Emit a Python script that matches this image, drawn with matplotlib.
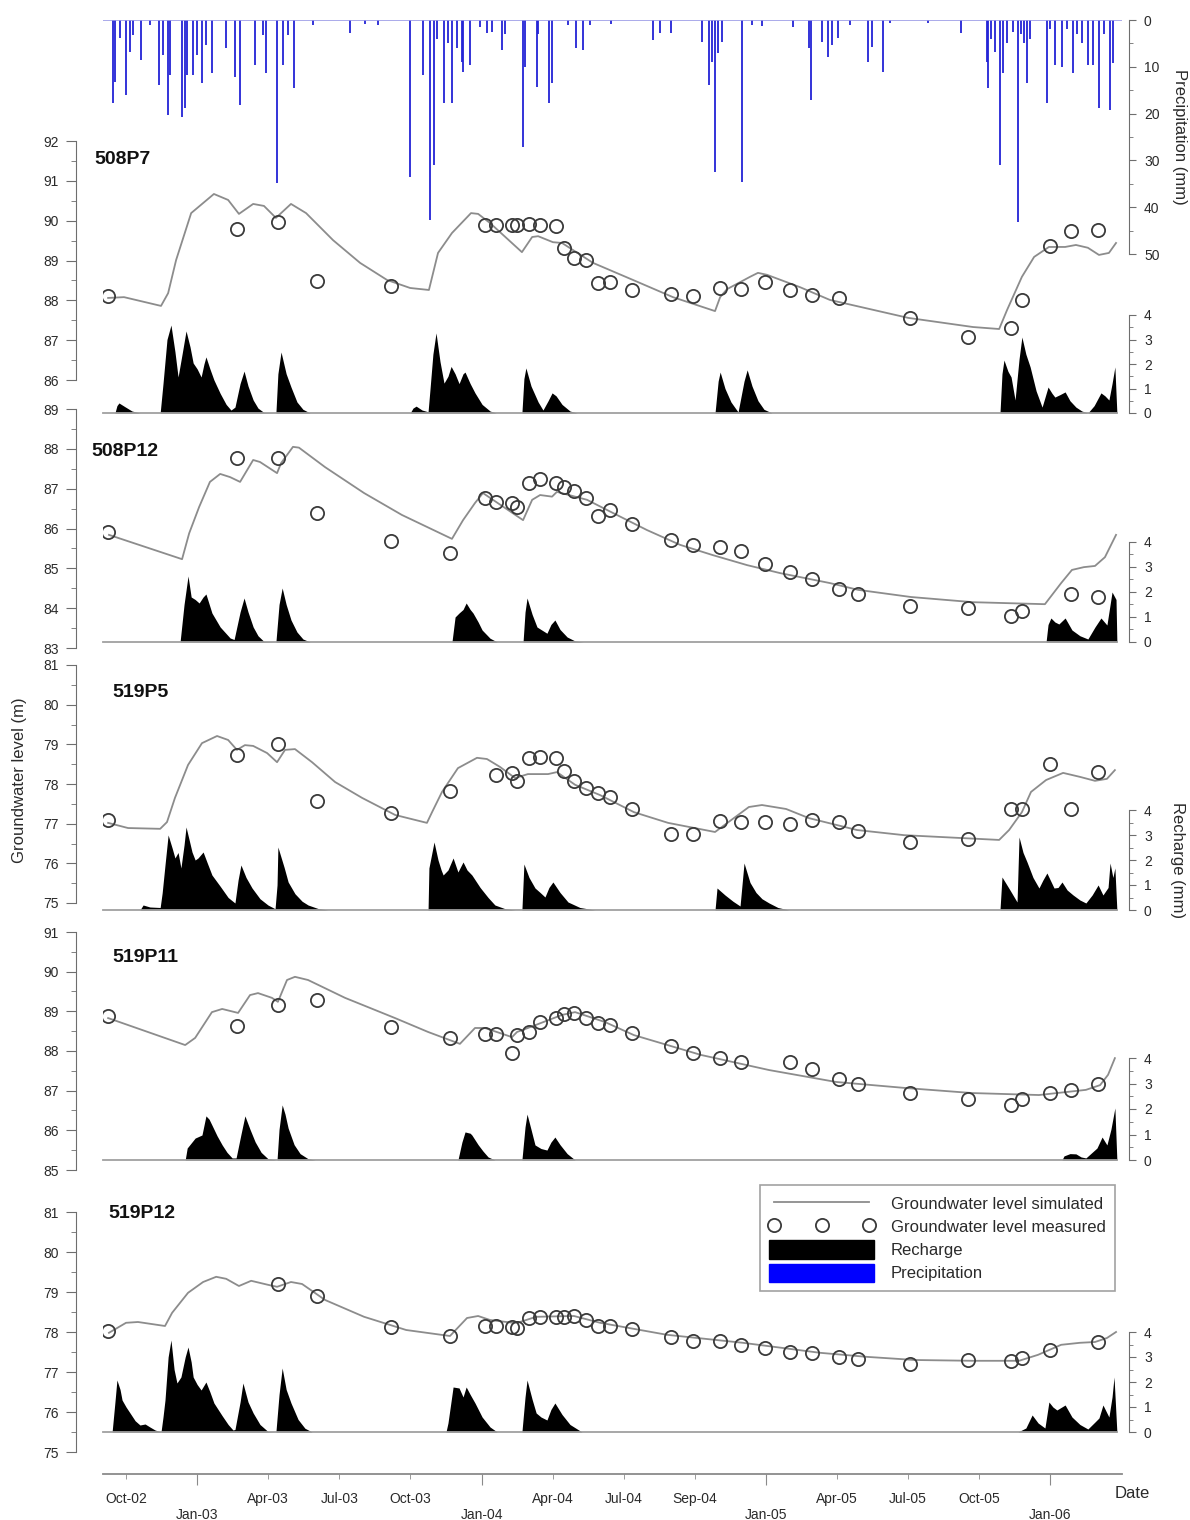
import numpy as np
import matplotlib.pyplot as plt
from matplotlib.lines import Line2D
from matplotlib.patches import Patch
from matplotlib.ticker import MultipleLocator

plt.rcParams['font.family'] = ['Liberation Sans', 'DejaVu Sans']

# all times are decimal years
quarter_ticks = [2002.75, 2003.0, 2003.25, 2003.5, 2003.75, 2004.0, 2004.25,
                 2004.5, 2004.75, 2005.0, 2005.25, 2005.5, 2005.75, 2006.0]
quarter_labels = ['Oct-02', 'Jan-03', 'Apr-03', 'Jul-03', 'Oct-03', 'Jan-04', 'Apr-04',
                  'Jul-04', 'Sep-04', 'Jan-05', 'Apr-05', 'Jul-05', 'Oct-05', 'Jan-06']

# daily precipitation (mm)
precip = [
    (2002.704, 17.8), (2002.711, 13.3), (2002.729, 3.9), (2002.750, 16.0), (2002.764, 6.8),
    (2002.775, 3.2), (2002.803, 8.5), (2002.834, 1.1), (2002.866, 13.9), (2002.880, 7.5),
    (2002.898, 20.3), (2002.905, 11.8), (2002.947, 20.7), (2002.958, 18.8), (2002.965, 11.8),
    (2002.986, 11.8), (2003.000, 7.5), (2003.017, 13.5), (2003.031, 5.3), (2003.052, 11.3),
    (2003.102, 6.0), (2003.133, 12.2), (2003.151, 18.2), (2003.204, 9.6), (2003.232, 3.2),
    (2003.242, 11.3), (2003.281, 34.8), (2003.302, 9.6), (2003.320, 3.2), (2003.341, 14.5),
    (2003.408, 1.1), (2003.538, 2.8), (2003.591, 0.8), (2003.636, 1.0), (2003.749, 33.5),
    (2003.794, 11.8), (2003.819, 42.7), (2003.833, 31.0), (2003.844, 4.0), (2003.868, 17.8),
    (2003.882, 5.0), (2003.896, 17.8), (2003.914, 6.0), (2003.931, 9.0), (2003.935, 11.1),
    (2003.960, 9.6), (2003.995, 1.5), (2004.019, 2.8), (2004.037, 2.5), (2004.072, 6.4),
    (2004.083, 3.0), (2004.146, 27.1), (2004.153, 10.0), (2004.195, 14.3), (2004.199, 3.0),
    (2004.237, 17.8), (2004.248, 13.5), (2004.304, 1.0), (2004.332, 6.0), (2004.357, 6.4),
    (2004.381, 1.0), (2004.455, 0.8), (2004.603, 4.3), (2004.628, 2.8), (2004.667, 2.8),
    (2004.775, 4.7), (2004.800, 13.9), (2004.810, 9.0), (2004.821, 32.5), (2004.832, 7.0),
    (2004.846, 4.7), (2004.916, 34.6), (2004.951, 1.0), (2004.986, 1.2), (2005.095, 1.5),
    (2005.151, 6.0), (2005.158, 17.1), (2005.197, 4.7), (2005.218, 7.9), (2005.232, 5.3),
    (2005.254, 3.9), (2005.296, 1.0), (2005.359, 9.0), (2005.373, 5.8), (2005.412, 11.1),
    (2005.436, 0.6), (2005.570, 0.6), (2005.686, 2.8), (2005.777, 9.0), (2005.781, 14.5),
    (2005.791, 4.0), (2005.805, 6.8), (2005.823, 31.0), (2005.834, 11.3), (2005.848, 5.0),
    (2005.869, 2.5), (2005.886, 43.2), (2005.897, 3.0), (2005.907, 5.0), (2005.918, 13.5),
    (2005.929, 4.0), (2005.988, 17.8), (2005.999, 2.0), (2006.016, 9.6), (2006.041, 10.0),
    (2006.059, 2.0), (2006.080, 11.3), (2006.094, 3.0), (2006.111, 4.9), (2006.132, 9.6),
    (2006.150, 9.6), (2006.171, 18.8), (2006.189, 3.0), (2006.210, 19.2), (2006.220, 9.2),
]

# measurement dates shared by all wells
meas_t = [2002.687, 2003.140, 2003.284, 2003.422, 2003.682, 2003.889, 2004.012, 2004.051,
          2004.107, 2004.125, 2004.167, 2004.206, 2004.262, 2004.290, 2004.325, 2004.367,
          2004.410, 2004.452, 2004.529, 2004.666, 2004.744, 2004.839, 2004.912, 2004.997,
          2005.085, 2005.162, 2005.257, 2005.324, 2005.507, 2005.711, 2005.862, 2005.900,
          2005.999, 2006.073, 2006.168]
nan = np.nan
meas_508P7 = [88.11, 89.79, 89.97, 88.49, 88.36, nan, 89.89, 89.89, 89.89, 89.89, 89.92, 89.89,
              89.87, 89.31, 89.06, 89.01, 88.43, 88.46, 88.26, 88.16, 88.11, 88.31, 88.28, 88.46,
              88.26, 88.13, 88.06, nan, 87.56, 87.08, 87.31, 88.01, 89.36, 89.74, 89.77]
meas_508P12 = [85.91, 87.77, 87.77, 86.39, 85.69, 85.38, 86.77, 86.67, 86.64, 86.54, 87.14, 87.24,
               87.14, 87.04, 86.94, 86.77, 86.31, 86.46, 86.11, 85.71, 85.59, 85.54, 85.44, 85.11,
               84.91, 84.73, 84.48, 84.35, 84.05, 84.00, 83.80, 83.93, nan, 84.35, 84.28]
meas_519P5 = [77.09, 78.73, 79.01, 77.57, 77.27, 77.82, nan, 78.23, 78.28, 78.08, 78.66, 78.68,
              78.66, 78.33, 78.08, 77.90, 77.77, 77.67, 77.37, 76.74, 76.74, 77.07, 77.04, 77.04,
              76.99, 77.09, 77.04, 76.82, 76.54, 76.61, 77.37, 77.37, 78.50, 77.37, 78.30]
meas_519P11 = [88.88, 88.63, 89.16, 89.29, 88.61, 88.33, 88.43, 88.43, 87.95, 88.40, 88.48, 88.73,
               88.83, 88.93, 88.96, 88.83, 88.71, 88.66, 88.45, 88.13, 87.95, 87.82, 87.72, nan,
               87.72, 87.55, 87.29, 87.17, 86.94, 86.79, 86.64, 86.79, 86.94, 87.02, 87.17]
meas_519P12 = [78.02, nan, 79.20, 78.90, 78.13, 77.90, 78.15, 78.15, 78.13, 78.10, 78.35, 78.38,
               78.38, 78.38, 78.40, 78.30, 78.15, 78.15, 78.08, 77.88, 77.78, 77.78, 77.68, 77.60,
               77.50, 77.48, 77.38, 77.33, 77.20, 77.30, 77.28, 77.35, 77.55, nan, 77.75]

# simulated groundwater level (m)
sim_508P7 = [
    (2002.687, 88.06), (2002.743, 88.08), (2002.873, 87.86), (2002.898, 88.18), (2002.926, 89.01),
    (2002.979, 90.19), (2003.059, 90.67), (2003.109, 90.52), (2003.147, 90.17), (2003.197, 90.42),
    (2003.235, 90.37), (2003.277, 90.07), (2003.330, 90.42), (2003.383, 90.19), (2003.478, 89.51),
    (2003.573, 88.94), (2003.668, 88.51), (2003.749, 88.31), (2003.815, 88.26), (2003.847, 89.19),
    (2003.896, 89.69), (2003.963, 90.19), (2003.988, 90.17), (2004.030, 89.94), (2004.142, 89.21),
    (2004.178, 89.59), (2004.199, 89.61), (2004.251, 89.46), (2004.283, 89.44), (2004.392, 88.94),
    (2004.533, 88.51), (2004.673, 88.08), (2004.821, 87.73), (2004.839, 88.08), (2004.863, 88.28),
    (2004.944, 88.59), (2004.972, 88.69), (2005.004, 88.64), (2005.120, 88.33), (2005.225, 88.01),
    (2005.500, 87.56), (2005.728, 87.33), (2005.820, 87.28), (2005.848, 87.76), (2005.900, 88.59),
    (2005.943, 89.09), (2005.995, 89.34), (2006.052, 89.34), (2006.090, 89.39), (2006.132, 89.32),
    (2006.171, 89.14), (2006.206, 89.19), (2006.231, 89.44),
]
sim_508P12 = [
    (2002.690, 85.84), (2002.947, 85.23), (2002.972, 85.88), (2003.007, 86.54), (2003.045, 87.17),
    (2003.081, 87.37), (2003.116, 87.29), (2003.151, 87.17), (2003.197, 87.72), (2003.221, 87.67),
    (2003.281, 87.39), (2003.295, 87.64), (2003.337, 88.05), (2003.358, 88.03), (2003.450, 87.54),
    (2003.587, 86.89), (2003.720, 86.34), (2003.896, 85.74), (2003.935, 86.21), (2003.977, 86.64),
    (2004.005, 86.89), (2004.146, 86.21), (2004.178, 86.72), (2004.206, 86.84), (2004.248, 86.80),
    (2004.265, 86.92), (2004.371, 86.72), (2004.462, 86.39), (2004.582, 85.96), (2004.698, 85.59),
    (2004.814, 85.33), (2004.934, 85.08), (2005.050, 84.88), (2005.225, 84.63), (2005.324, 84.46),
    (2005.510, 84.28), (2005.728, 84.15), (2005.981, 84.10), (2006.038, 84.63), (2006.076, 84.96),
    (2006.118, 85.03), (2006.157, 85.06), (2006.192, 85.28), (2006.231, 85.84),
]
sim_519P5 = [
    (2002.687, 77.02), (2002.757, 76.89), (2002.870, 76.87), (2002.894, 77.04), (2002.922, 77.65),
    (2002.968, 78.48), (2003.017, 79.03), (2003.070, 79.21), (2003.109, 79.11), (2003.140, 78.86),
    (2003.168, 78.98), (2003.197, 78.96), (2003.246, 78.78), (2003.281, 78.55), (2003.309, 78.86),
    (2003.344, 78.88), (2003.404, 78.55), (2003.485, 78.05), (2003.580, 77.65), (2003.696, 77.22),
    (2003.808, 77.02), (2003.826, 77.29), (2003.861, 77.80), (2003.917, 78.40), (2003.984, 78.66),
    (2004.019, 78.63), (2004.065, 78.43), (2004.118, 78.15), (2004.163, 78.25), (2004.234, 78.25),
    (2004.265, 78.30), (2004.329, 77.98), (2004.417, 77.72), (2004.536, 77.29), (2004.656, 77.02),
    (2004.821, 76.79), (2004.940, 77.42), (2004.986, 77.47), (2005.071, 77.37), (2005.151, 77.14),
    (2005.320, 76.84), (2005.486, 76.71), (2005.820, 76.59), (2005.855, 76.84), (2005.900, 77.29),
    (2005.932, 77.80), (2005.985, 78.10), (2006.045, 78.28), (2006.104, 78.18), (2006.157, 78.08),
    (2006.199, 78.13), (2006.227, 78.35),
]
sim_519P11 = [
    (2002.687, 88.83), (2002.958, 88.15), (2002.993, 88.33), (2003.052, 88.98), (2003.088, 89.06),
    (2003.144, 88.96), (2003.186, 89.41), (2003.214, 89.46), (2003.263, 89.34), (2003.284, 89.24),
    (2003.316, 89.79), (2003.344, 89.87), (2003.390, 89.79), (2003.520, 89.34), (2003.696, 88.83),
    (2003.812, 88.48), (2003.924, 88.18), (2003.977, 88.58), (2004.012, 88.58), (2004.107, 88.35),
    (2004.125, 88.48), (2004.163, 88.58), (2004.283, 88.91), (2004.329, 88.98), (2004.434, 88.73),
    (2004.536, 88.40), (2004.772, 87.90), (2005.011, 87.52), (2005.246, 87.22), (2005.486, 87.07),
    (2005.725, 86.94), (2005.960, 86.89), (2006.125, 87.02), (2006.175, 87.14), (2006.203, 87.40),
    (2006.227, 87.82),
]
sim_519P12 = [
    (2002.690, 77.98), (2002.750, 78.23), (2002.792, 78.25), (2002.887, 78.15), (2002.912, 78.48),
    (2002.968, 78.98), (2003.021, 79.25), (2003.067, 79.38), (2003.102, 79.33), (2003.147, 79.15),
    (2003.190, 79.28), (2003.249, 79.18), (2003.281, 79.13), (2003.330, 79.25), (2003.369, 79.20),
    (2003.450, 78.80), (2003.587, 78.38), (2003.735, 78.05), (2003.889, 77.90), (2003.949, 78.35),
    (2003.988, 78.40), (2004.030, 78.30), (2004.111, 78.23), (2004.135, 78.25), (2004.192, 78.38),
    (2004.325, 78.40), (2004.417, 78.23), (2004.652, 77.93), (2004.919, 77.73), (2005.190, 77.48),
    (2005.352, 77.38), (2005.524, 77.30), (2005.728, 77.28), (2005.890, 77.28), (2005.957, 77.43),
    (2006.038, 77.68), (2006.104, 77.73), (2006.157, 77.75), (2006.199, 77.85), (2006.231, 78.00),
]

# recharge (mm)
rech_508P7 = [
    (2002.711, 0), (2002.718, 0.3), (2002.725, 0.41), (2002.747, 0.25), (2002.771, 0.08), (2002.799, 0),
    (2002.870, 0), (2002.880, 1.2), (2002.894, 3.0), (2002.908, 3.59), (2002.922, 2.5), (2002.933, 1.47),
    (2002.947, 2.4), (2002.961, 3.35), (2002.975, 2.7), (2002.986, 2.04), (2003.000, 1.8), (2003.014, 1.47),
    (2003.024, 2.0), (2003.031, 2.29), (2003.045, 1.8), (2003.059, 1.35), (2003.081, 0.8), (2003.102, 0.35),
    (2003.119, 0.12), (2003.133, 0.24), (2003.151, 1.2), (2003.165, 1.71), (2003.179, 1.1), (2003.197, 0.53),
    (2003.214, 0.2), (2003.235, 0.02), (2003.277, 0), (2003.284, 1.6), (2003.295, 2.49), (2003.313, 1.6),
    (2003.330, 1.06), (2003.351, 0.45), (2003.372, 0.15), (2003.397, 0),
    (2003.749, 0), (2003.759, 0.2), (2003.770, 0.28), (2003.791, 0.12), (2003.812, 0.05), (2003.819, 1.0),
    (2003.829, 2.4), (2003.840, 3.27), (2003.854, 2.1), (2003.868, 1.22), (2003.882, 1.5), (2003.893, 1.9),
    (2003.907, 1.6), (2003.921, 1.2), (2003.935, 1.6), (2003.942, 1.67), (2003.960, 1.2), (2003.977, 0.82),
    (2004.002, 0.35), (2004.030, 0.08), (2004.051, 0),
    (2004.142, 0), (2004.149, 1.4), (2004.156, 1.84), (2004.174, 1.1), (2004.199, 0.45), (2004.216, 0.12),
    (2004.234, 0.5), (2004.248, 0.82), (2004.262, 0.7), (2004.283, 0.35), (2004.311, 0.08), (2004.336, 0),
    (2004.821, 0), (2004.832, 1.3), (2004.839, 1.67), (2004.856, 1.0), (2004.877, 0.45), (2004.902, 0.04),
    (2004.923, 1.3), (2004.934, 1.76), (2004.951, 1.1), (2004.972, 0.5), (2004.993, 0.15), (2005.021, 0),
    (2005.823, 0), (2005.830, 1.6), (2005.837, 2.16), (2005.851, 1.7), (2005.862, 1.47), (2005.876, 0.53),
    (2005.890, 2.2), (2005.900, 3.10), (2005.914, 2.4), (2005.929, 1.88), (2005.950, 0.9), (2005.971, 0.24),
    (2005.992, 1.06), (2006.006, 0.8), (2006.016, 0.65), (2006.034, 0.75), (2006.052, 0.86), (2006.069, 0.5),
    (2006.090, 0.24), (2006.111, 0.08), (2006.132, 0), (2006.154, 0.3), (2006.178, 0.82), (2006.192, 0.7),
    (2006.206, 0.53), (2006.217, 1.2), (2006.227, 1.88), (2006.234, 0),
]
rech_508P12 = [
    (2002.940, 0), (2002.954, 1.5), (2002.968, 2.64), (2002.979, 1.8), (2002.993, 1.7), (2003.007, 1.56),
    (2003.021, 1.8), (2003.031, 1.92), (2003.052, 1.16), (2003.081, 0.6), (2003.116, 0.16), (2003.130, 0.1),
    (2003.151, 1.2), (2003.165, 1.76), (2003.179, 1.2), (2003.197, 0.6), (2003.214, 0.25), (2003.235, 0.02),
    (2003.277, 0), (2003.288, 1.5), (2003.299, 2.16), (2003.313, 1.5), (2003.330, 0.88), (2003.351, 0.4),
    (2003.372, 0.12), (2003.397, 0),
    (2003.896, 0), (2003.907, 1.0), (2003.921, 1.16), (2003.935, 1.3), (2003.946, 1.56), (2003.960, 1.3),
    (2003.970, 1.16), (2003.988, 0.8), (2004.002, 0.48), (2004.030, 0.15), (2004.055, 0),
    (2004.146, 0), (2004.153, 1.2), (2004.160, 1.76), (2004.178, 1.1), (2004.195, 0.6), (2004.230, 0.35),
    (2004.244, 0.7), (2004.258, 0.88), (2004.276, 0.5), (2004.301, 0.2), (2004.329, 0.04), (2004.357, 0),
    (2005.985, 0), (2005.992, 0.7), (2006.002, 0.96), (2006.016, 0.8), (2006.030, 0.72), (2006.052, 0.96),
    (2006.076, 0.48), (2006.104, 0.25), (2006.132, 0.12), (2006.157, 0.6), (2006.178, 0.96), (2006.199, 0.68),
    (2006.217, 2.0), (2006.231, 1.7), (2006.234, 0),
]
rech_519P5 = [
    (2002.799, 0), (2002.810, 0.2), (2002.834, 0.12), (2002.870, 0.1), (2002.877, 0.68), (2002.887, 1.8),
    (2002.898, 3.0), (2002.912, 2.48), (2002.922, 2.08), (2002.933, 2.3), (2002.943, 1.68), (2002.954, 2.6),
    (2002.961, 3.32), (2002.972, 2.8), (2002.982, 2.32), (2002.993, 2.0), (2003.003, 2.08), (2003.021, 2.32),
    (2003.035, 1.9), (2003.052, 1.4), (2003.081, 0.95), (2003.109, 0.5), (2003.133, 0.28), (2003.144, 1.2),
    (2003.154, 1.8), (2003.172, 1.3), (2003.193, 0.88), (2003.221, 0.45), (2003.249, 0.2), (2003.274, 0.05),
    (2003.281, 1.0), (2003.284, 2.52), (2003.306, 1.7), (2003.320, 1.12), (2003.344, 0.65), (2003.369, 0.35),
    (2003.390, 0.2), (2003.425, 0.06), (2003.460, 0),
    (2003.812, 0), (2003.815, 1.68), (2003.833, 2.72), (2003.847, 2.0), (2003.858, 1.6), (2003.865, 1.4),
    (2003.882, 1.6), (2003.900, 2.08), (2003.917, 1.52), (2003.935, 1.92), (2003.949, 1.6), (2003.966, 1.4),
    (2003.995, 0.9), (2004.023, 0.5), (2004.047, 0.2), (2004.083, 0.05), (2004.118, 0),
    (2004.142, 0), (2004.149, 1.84), (2004.167, 1.3), (2004.188, 0.88), (2004.206, 0.7), (2004.223, 0.52),
    (2004.237, 0.9), (2004.251, 1.12), (2004.276, 0.7), (2004.304, 0.32), (2004.346, 0.1), (2004.399, 0),
    (2004.821, 0), (2004.828, 0.88), (2004.856, 0.6), (2004.884, 0.35), (2004.909, 0.16), (2004.923, 1.88),
    (2004.944, 1.1), (2004.965, 0.7), (2004.986, 0.45), (2005.011, 0.28), (2005.042, 0.1), (2005.081, 0),
    (2005.823, 0), (2005.830, 1.32), (2005.858, 0.8), (2005.883, 0.32), (2005.890, 2.92), (2005.904, 2.3),
    (2005.918, 1.92), (2005.939, 1.3), (2005.960, 0.88), (2005.974, 1.2), (2005.988, 1.48), (2006.013, 0.88),
    (2006.027, 0.9), (2006.041, 1.12), (2006.059, 0.8), (2006.080, 0.6), (2006.104, 0.4), (2006.125, 0.28),
    (2006.147, 0.6), (2006.168, 1.0), (2006.185, 0.6), (2006.203, 0.9), (2006.210, 1.88), (2006.220, 1.3),
    (2006.227, 1.68), (2006.234, 0),
]
rech_519P11 = [
    (2002.958, 0), (2002.965, 0.47), (2002.993, 0.86), (2003.017, 0.98), (2003.031, 1.73), (2003.042, 1.6),
    (2003.052, 1.37), (2003.070, 0.95), (2003.088, 0.59), (2003.105, 0.3), (2003.123, 0.08), (2003.137, 0.08),
    (2003.154, 1.0), (2003.168, 1.73), (2003.186, 1.2), (2003.204, 0.71), (2003.225, 0.3), (2003.249, 0.05),
    (2003.281, 0), (2003.288, 1.2), (2003.299, 2.16), (2003.309, 1.8), (2003.320, 1.25), (2003.341, 0.6),
    (2003.362, 0.25), (2003.390, 0.05), (2003.415, 0),
    (2003.917, 0), (2003.931, 0.7), (2003.942, 1.1), (2003.960, 1.05), (2003.966, 0.98), (2003.988, 0.6),
    (2004.005, 0.35), (2004.023, 0.12), (2004.047, 0),
    (2004.142, 0), (2004.153, 1.3), (2004.160, 1.8), (2004.174, 1.2), (2004.188, 0.59), (2004.209, 0.45),
    (2004.230, 0.39), (2004.244, 0.7), (2004.258, 0.9), (2004.276, 0.6), (2004.301, 0.25), (2004.329, 0),
    (2006.041, 0), (2006.048, 0.16), (2006.069, 0.25), (2006.090, 0.24), (2006.108, 0.12), (2006.125, 0.08),
    (2006.147, 0.3), (2006.164, 0.47), (2006.182, 0.9), (2006.199, 0.59), (2006.213, 1.2), (2006.227, 2.04),
    (2006.234, 0),
]
rech_519P12 = [
    (2002.701, 0), (2002.711, 1.2), (2002.718, 2.08), (2002.729, 1.7), (2002.736, 1.28), (2002.750, 1.0),
    (2002.764, 0.76), (2002.782, 0.45), (2002.799, 0.28), (2002.817, 0.32), (2002.834, 0.2), (2002.852, 0.08),
    (2002.873, 0), (2002.880, 0.6), (2002.887, 1.28), (2002.898, 3.0), (2002.908, 3.68), (2002.919, 2.5),
    (2002.929, 1.96), (2002.943, 2.2), (2002.958, 3.0), (2002.968, 3.4), (2002.979, 2.8), (2002.986, 2.2),
    (2003.000, 1.9), (2003.014, 1.68), (2003.031, 2.0), (2003.045, 1.6), (2003.059, 1.16), (2003.088, 0.65),
    (2003.109, 0.3), (2003.126, 0.08), (2003.133, 0.1), (2003.151, 1.2), (2003.161, 1.96), (2003.179, 1.2),
    (2003.197, 0.76), (2003.221, 0.3), (2003.249, 0.02), (2003.277, 0), (2003.288, 1.5), (2003.299, 2.56),
    (2003.313, 1.7), (2003.330, 1.16), (2003.355, 0.5), (2003.379, 0.15), (2003.404, 0),
    (2003.875, 0), (2003.882, 0.36), (2003.900, 1.8), (2003.921, 1.76), (2003.935, 1.4), (2003.946, 1.8),
    (2003.960, 1.5), (2003.977, 1.16), (2004.002, 0.6), (2004.030, 0.2), (2004.055, 0),
    (2004.142, 0), (2004.153, 1.4), (2004.160, 2.08), (2004.178, 1.3), (2004.192, 0.76), (2004.209, 0.6),
    (2004.230, 0.48), (2004.244, 0.9), (2004.258, 1.16), (2004.283, 0.7), (2004.311, 0.3), (2004.353, 0),
    (2005.886, 0), (2005.914, 0.16), (2005.936, 0.68), (2005.957, 0.36), (2005.981, 0.16), (2005.995, 1.2),
    (2006.009, 1.0), (2006.023, 0.88), (2006.052, 1.08), (2006.076, 0.6), (2006.104, 0.3), (2006.132, 0.12),
    (2006.157, 0.4), (2006.171, 0.56), (2006.185, 1.08), (2006.206, 0.6), (2006.217, 1.4), (2006.224, 2.2),
    (2006.234, 0),
]

W, H = 1190, 1520
XLIM = (2002.669, 2006.252)
PT = 0.72  # points per pixel at 100 dpi
AXC = '#6e6e6e'
TXT = '#2a2a2a'

fig = plt.figure(figsize=(W / 100, H / 100), dpi=100)


def box(top, bot, x0=103, x1=1122):
    return fig.add_axes([x0 / W, 1 - bot / H, (x1 - x0) / W, (bot - top) / H])


def right_spine(ax, major, minor, lo, hi):
    ax.set_ylim(lo, hi)
    ax.patch.set_visible(False)
    for s in ('left', 'top'):
        ax.spines[s].set_visible(False)
    ax.spines['right'].set_position(('outward', 7 * PT))
    ax.spines['right'].set_color(AXC)
    ax.yaxis.tick_right()
    ax.yaxis.set_major_locator(MultipleLocator(major))
    ax.yaxis.set_minor_locator(MultipleLocator(minor))
    ax.tick_params(axis='y', which='both', colors=AXC, labelcolor=TXT, labelsize=10, direction='out')
    ax.tick_params(axis='y', which='major', length=7 * PT, pad=8 * PT)
    ax.tick_params(axis='y', which='minor', length=4 * PT)
    ax.set_xticks([])
    ax.set_xlim(XLIM)


# precipitation on top, hanging down from zero
pa = box(20, 254)
right_spine(pa, 10, 5, 50, 0)
pa.spines['bottom'].set_visible(False)
pt, pv = zip(*precip)
pa.vlines(pt, 0, pv, color='#2323d6', lw=1.3)
pa.axhline(0, color='#9c9ce6', lw=1.2)

panels = [
    ('508P7', meas_508P7, sim_508P7, rech_508P7, (141, 380, 86, 92), (315, 413), (94, 160)),
    ('508P12', meas_508P12, sim_508P12, rech_508P12, (409, 648, 83, 89), (542, 642), (91, 452)),
    ('519P5', meas_519P5, sim_519P5, rech_519P5, (665, 903, 75, 81), (810, 910), (112, 693)),
    ('519P11', meas_519P11, sim_519P11, rech_519P11, (932, 1170, 85, 91), (1058, 1160), (112, 957)),
    ('519P12', meas_519P12, sim_519P12, rech_519P12, (1212, 1452, 75, 81), (1332, 1432), (108, 1213)),
]

for i, (name, meas, sim, rech, lev, rbox, lab) in enumerate(panels):
    rx = box(*rbox)
    right_spine(rx, 1, 0.5, 0, 4)
    rt, rv = zip(*rech)
    rx.fill_between(rt, rv, 0, color='black', lw=0)
    rx.spines['bottom'].set_color('#a0a0a0')
    rx.spines['bottom'].set_linewidth(1.3)
    rx.spines['bottom'].set_bounds(XLIM[0], rt[-1])

    ax = box(lev[0], lev[1])
    ax.set_xlim(XLIM)
    ax.set_ylim(lev[2], lev[3])
    ax.patch.set_visible(False)
    for s in ('top', 'right', 'bottom'):
        ax.spines[s].set_visible(False)
    ax.spines['left'].set_position(('outward', 27 * PT))
    ax.spines['left'].set_color(AXC)
    ax.yaxis.set_major_locator(MultipleLocator(1))
    ax.yaxis.set_minor_locator(MultipleLocator(0.5))
    ax.tick_params(axis='y', which='both', colors=AXC, labelcolor=TXT, labelsize=10, direction='out')
    ax.tick_params(axis='y', which='major', length=10 * PT, pad=7 * PT)
    ax.tick_params(axis='y', which='minor', length=5 * PT)
    ax.set_xticks([])

    st, sv = zip(*sim)
    ax.plot(st, sv, color='#8c8c8c', lw=1.3, zorder=2)
    ax.plot(meas_t, meas, 'o', mfc='none', mec='#3a3a3a', ms=9.5, mew=1.3, zorder=3)
    fig.text(lab[0] / W, 1 - lab[1] / H, name, fontsize=14, fontweight='bold',
             color='#111111', va='center', ha='left')

    if i == len(panels) - 1:
        ax.spines['bottom'].set_visible(True)
        ax.spines['bottom'].set_position(('outward', 22 * PT))
        ax.spines['bottom'].set_color('#8a8a8a')
        ax.spines['bottom'].set_linewidth(1.3)
        jan = [t for t, l in zip(quarter_ticks, quarter_labels) if l.startswith('Jan')]
        jan_l = ['\n' + l for l in quarter_labels if l.startswith('Jan')]
        oth = [t for t, l in zip(quarter_ticks, quarter_labels) if not l.startswith('Jan')]
        oth_l = [l for l in quarter_labels if not l.startswith('Jan')]
        ax.set_xticks(jan, jan_l)
        ax.set_xticks(oth, oth_l, minor=True)
        ax.tick_params(axis='x', which='both', colors='#8a8a8a', labelcolor=TXT, labelsize=10,
                       direction='out')
        ax.tick_params(axis='x', which='major', length=11 * PT, pad=7 * PT)
        ax.tick_params(axis='x', which='minor', length=5 * PT, pad=13 * PT)

fig.text(20 / W, 1 - 780 / H, 'Groundwater level (m)', rotation=90, fontsize=12,
         color=TXT, ha='center', va='center')
fig.text(1178 / W, 1 - 860 / H, 'Recharge (mm)', rotation=270, fontsize=12,
         color=TXT, ha='center', va='center')
fig.text(1180 / W, 1 - 137 / H, 'Precipitation (mm)', rotation=270, fontsize=12,
         color=TXT, ha='center', va='center')
fig.text(1132 / W, 1 - 1494 / H, 'Date', fontsize=12, color=TXT, ha='center', va='center')

handles = [
    Line2D([], [], color='#8c8c8c', lw=1.3),
    Line2D([], [], ls='none', marker='o', mfc='none', mec='#3a3a3a', ms=9.5, mew=1.3),
    Patch(fc='black', ec='black'),
    Patch(fc='#0000ff', ec='#0000ff'),
]
labels = ['Groundwater level simulated', 'Groundwater level measured', 'Recharge', 'Precipitation']
leg = fig.legend(handles, labels, loc='upper left', bbox_to_anchor=(760 / W, 1 - 1185 / H),
                 bbox_transform=fig.transFigure, frameon=True, fancybox=False, fontsize=12,
                 numpoints=3, handlelength=6.3, handleheight=1.3, labelspacing=0.3,
                 borderpad=0.55, handletextpad=1.0, borderaxespad=0)
leg.get_frame().set_edgecolor('#8a8a8a')
leg.get_frame().set_linewidth(1.2)
for t in leg.get_texts():
    t.set_color(TXT)

fig.savefig('out.png', dpi=100)
